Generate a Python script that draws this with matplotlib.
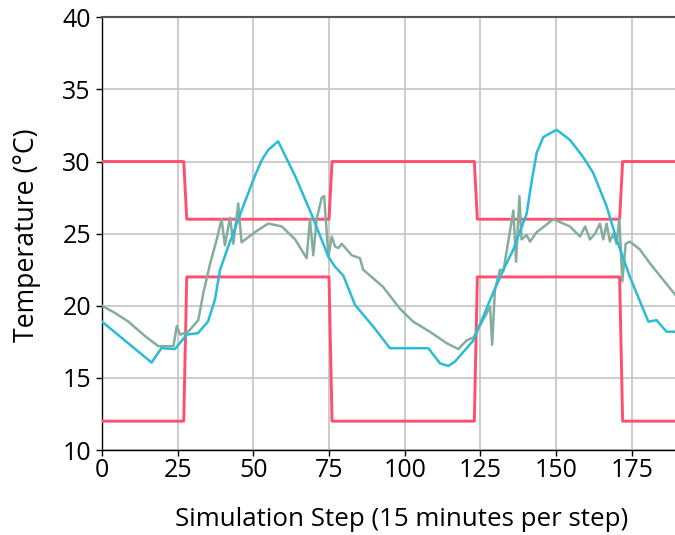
import matplotlib
matplotlib.use("Agg")
import matplotlib.pyplot as plt

plt.rcParams['font.family'] = ['Open Sans', 'DejaVu Sans']

# Setpoint bands (heating / cooling)
sp_steps = [0, 27, 28, 75, 76, 123, 124, 171, 172, 190]
sp_upper = [30, 30, 26, 26, 30, 30, 26, 26, 30, 30]
sp_lower = [12, 12, 22, 22, 12, 12, 22, 22, 12, 12]

# Zone temperature (cyan)
cyan_x = [0, 16.4, 19.6, 24.1, 28, 31.7, 35, 37.3, 39, 41.7, 46.1, 50.5, 52.8, 54.9, 58.2,
          63.8, 69.3, 74.8, 77, 79.7, 83.6, 89.6, 95.1, 107.8, 111.7, 114.4, 116.6, 122.7,
          128.2, 132.6, 135.9, 140.3, 142, 143.6, 145.8, 150.2, 154.6, 159, 162.3, 166.7,
          170, 174.4, 180.5, 183.2, 186.5, 190]
cyan_y = [18.9, 16.06, 17.06, 17.0, 18.0, 18.1, 18.9, 20.4, 22.5, 24.1, 26.6, 29.0, 30.1, 30.8, 31.4,
          29.0, 26.3, 23.4, 22.7, 22.1, 20.06, 18.56, 17.06, 17.06, 16.0, 15.83, 16.13, 17.6,
          20.4, 22.5, 23.9, 26.4, 28.7, 30.6, 31.7, 32.2, 31.5, 30.3, 29.2, 26.9,
          24.6, 22.0, 18.9, 19.0, 18.2, 18.2]

# Zone temperature (green)
green_x = [0, 4.3, 8.7, 14.2, 18.6, 23.6, 24.7, 25.8, 28.5, 31.8, 33.5, 35.7, 37.9, 39.5, 40.6,
           42.3, 43.4, 45.0, 46.1, 50.5, 54.9, 59.4, 63.8, 67.6, 68.7, 69.8, 70.9, 72.6, 73.4,
           74.8, 75.9, 77, 78.1, 79.2, 82.5, 85.2, 86.3, 92.9, 98.4, 102.8, 108.3, 113.9, 117.7,
           120.5, 122.7, 126.5, 128.2, 128.9, 129.8, 131.5, 132.6, 135.9, 136.8, 137.9, 138.6,
           140.3, 141.4, 143.6, 149.1, 154.6, 157.9, 159.6, 161.2, 162.9, 164.5, 165.6, 166.7,
           167.8, 168.9, 170, 170.9, 171.9, 173, 174.4, 177.7, 181, 185.4, 190]
green_y = [20.0, 19.5, 18.9, 17.9, 17.2, 17.2, 18.6, 18.0, 18.2, 19.0, 20.9, 22.9, 24.6, 26.0, 24.2,
           26.1, 24.3, 27.1, 24.4, 25.1, 25.7, 25.5, 24.6, 23.3, 26.0, 23.5, 26.0, 27.5, 27.6,
           23.4, 24.8, 24.1, 24.0, 24.3, 23.5, 23.3, 22.5, 21.3, 19.8, 18.9, 18.2, 17.4, 17.0,
           17.6, 17.8, 19.25, 19.95, 17.3, 21.1, 22.5, 22.4, 26.6, 23.06, 27.6, 24.6,
           24.9, 24.45, 25.1, 26.0, 25.5, 24.8, 25.5, 24.6, 25.0, 25.7, 24.6, 25.7,
           24.45, 25.0, 24.3, 26.0, 21.7, 24.3, 24.45, 23.9, 22.95, 21.8, 20.6]

x_ticks = [0, 25, 50, 75, 100, 125, 150, 175]
y_ticks = [10, 15, 20, 25, 30, 35, 40]

W, H = 675, 535
fig = plt.figure(figsize=(6.75, 5.35), dpi=100)
ax = fig.add_axes([102 / W, 1 - 450 / H, 1 - 102 / W, (450 - 17.3) / H])

red = '#ff4f6e'
ax.plot(sp_steps, sp_upper, color=red, lw=2.1, zorder=3)
ax.plot(sp_steps, sp_lower, color=red, lw=2.1, zorder=3)
ax.plot(green_x, green_y, color='#86ad9c', lw=1.8, zorder=4)
ax.plot(cyan_x, cyan_y, color='#29bcd6', lw=1.8, zorder=5)

ax.set_xlim(0, 189.3)
ax.set_ylim(10, 40)
ax.set_xticks(x_ticks)
ax.set_yticks(y_ticks)
ax.grid(True, color='#c4c4c4', lw=1.2)
ax.set_axisbelow(True)
ax.tick_params(labelsize=18, direction='out', length=4, width=1, colors='black')
ax.tick_params(axis='x', pad=2)
ax.tick_params(axis='y', pad=4)
ax.spines['right'].set_visible(False)
ax.spines['top'].set_color('#555555')
ax.spines['top'].set_linewidth(1.5)
for s in ['left', 'bottom']:
    ax.spines[s].set_color('black')
    ax.spines[s].set_linewidth(1.0)

# axis titles placed in figure pixels, sized to match reference extents
xl = fig.text(401.5 / W, 1 - 519 / H, 'Simulation Step (15 minutes per step)',
              ha='center', va='center', fontsize=18)
yl = fig.text(27 / W, 1 - 235 / H, 'Temperature (°C)', rotation=90,
              ha='center', va='center', fontsize=18)
fig.canvas.draw()
r = fig.canvas.get_renderer()
wx = xl.get_window_extent(r).width
xl.set_fontsize(18 * 453 / wx)
hy = yl.get_window_extent(r).height
yl.set_fontsize(18 * 214 / hy)

fig.savefig('out.png', dpi=100)
